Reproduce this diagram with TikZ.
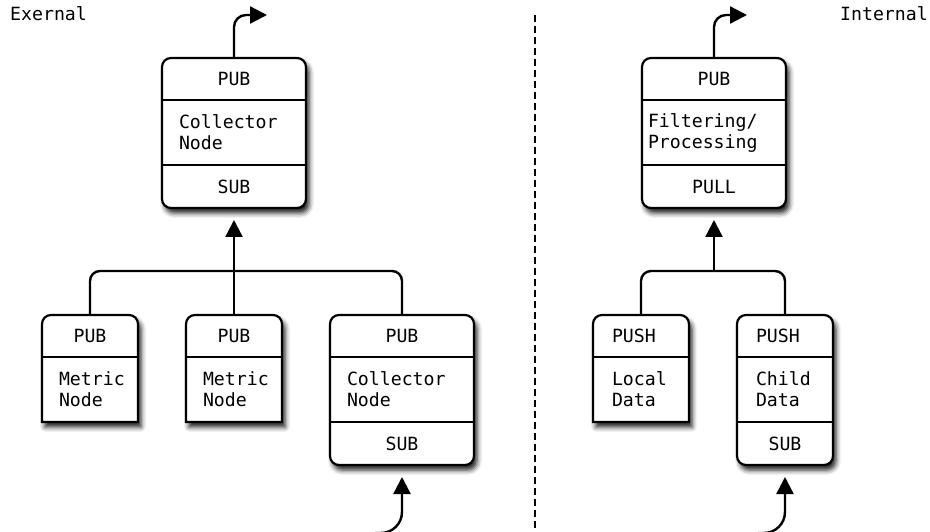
\documentclass[tikz,border=0pt]{standalone}
\usepackage{fontspec}
\setmonofont{DejaVu Sans Mono}
\usetikzlibrary{arrows.meta, positioning, fit, backgrounds, shadows.blur}

% frame with rounded top corners and a square bottom
\newcommand{\openframe}[2]{%
  \draw[frame] (#2.south west) -- ([yshift=-9pt]#1.north west)
    arc[start angle=180, end angle=90, radius=9pt]
    -- ([xshift=-9pt]#1.north east)
    arc[start angle=90, end angle=0, radius=9pt]
    -- (#2.south east) -- cycle;}

\begin{document}
\begin{tikzpicture}[x=1pt, y=1pt,
        % Text and box parts
        txt/.style={font=\ttfamily\fontsize{18.2}{21}\selectfont},
        part/.style={txt, inner ysep=0pt, inner xsep=17pt, outer sep=0pt},
        hdr/.style={part, minimum height=42pt, align=center},
        body/.style={part, minimum height=65pt, align=left},
        ftr/.style={part, minimum height=43pt, align=center},
        wide/.style={text width=110pt},
        narrow/.style={text width=62pt},
        inset/.style={inner xsep=19pt, text width=58pt, align=left},
        % Frames and lines
        frame/.style={draw, fill=white, line width=2.2pt,
            blur shadow={shadow xshift=3pt, shadow yshift=-5pt, shadow blur radius=5pt, shadow opacity=90}},
        box/.style={frame, rounded corners=9pt, inner sep=0pt},
        split/.style={line width=2pt},
        line/.style={line width=2.4pt},
        arrow/.style={line, -{Triangle[length=17pt, width=17pt]}}
    ]
    \useasboundingbox (0,0) rectangle (930,531);

    % External side
    \node[txt, anchor=base west, inner sep=0pt] (ext) at (10,510) {Exernal};

    \node[hdr, wide] (cpub) at (234,452) {PUB};
    \node[body, wide, below=0pt of cpub] (cbody) {Collector\\Node};
    \node[ftr, wide, below=0pt of cbody] (csub) {SUB};

    \node[hdr, narrow] (m1pub) at (90,195) {PUB};
    \node[body, narrow, below=0pt of m1pub] (m1body) {Metric\\Node};
    \node[hdr, narrow] (m2pub) at (234,195) {PUB};
    \node[body, narrow, below=0pt of m2pub] (m2body) {Metric\\Node};

    \node[hdr, wide] (c2pub) at (402,195) {PUB};
    \node[body, wide, below=0pt of c2pub] (c2body) {Collector\\Node};
    \node[ftr, wide, below=0pt of c2body] (c2sub) {SUB};

    % Internal side
    \node[txt, anchor=base east, inner sep=0pt] (int) at (928,510) {Internal};

    \node[hdr, wide] (fpub) at (714,452) {PUB};
    \node[body, wide, inner xsep=6pt, text width=132pt, below=0pt of fpub] (fbody) {Filtering/\\Processing};
    \node[ftr, wide, below=0pt of fbody] (fpull) {PULL};

    \node[hdr, narrow, inset] (lpush) at (641,195) {PUSH};
    \node[body, narrow, inset, below=0pt of lpush] (lbody) {Local\\Data};
    \node[hdr, narrow, inset] (chpush) at (785,195) {PUSH};
    \node[body, narrow, inset, below=0pt of chpush] (chbody) {Child\\Data};
    \node[ftr, narrow, below=0pt of chbody] (chsub) {SUB};

    % Frames behind the parts
    \begin{scope}[on background layer]
        \node[box, fit=(cpub)(csub)] (cframe) {};
        \node[box, fit=(c2pub)(c2sub)] (c2frame) {};
        \node[box, fit=(fpub)(fpull)] (fframe) {};
        \node[box, fit=(chpush)(chsub)] (chframe) {};
        \openframe{m1pub}{m1body}
        \openframe{m2pub}{m2body}
        \openframe{lpush}{lbody}
    \end{scope}

    % Dividers between the parts
    \foreach \p in {cpub, cbody, m1pub, m2pub, c2pub, c2body, fpub, fbody, lpush, chpush, chbody}
        \draw[split] (\p.south west) -- (\p.south east);

    % Separator
    \draw[line width=2pt, dash pattern=on 7pt off 4pt] (535,516) -- (535,0);

    % Connectors, external side
    \coordinate (lbus) at (234,260);
    \coordinate (cout) at (267,516);
    \coordinate (cin) at (375,-2);
    \draw[line, rounded corners=10pt] (m1pub.north) |- (lbus) -| (c2pub.north);
    \draw[arrow, shorten >=12pt] (m2pub.north) -- (csub.south);
    \draw[arrow, rounded corners=12pt] (cpub.north) |- (cout);
    \draw[arrow, rounded corners=21pt, shorten >=12pt] (cin) -| (c2sub.south);

    % Connectors, internal side
    \coordinate (rbus) at (fpull.south |- lbus);
    \coordinate (fout) at (747,516);
    \coordinate (chin) at (758,-2);
    \draw[line, rounded corners=10pt] (lpush.north) |- (rbus) -| (chpush.north);
    \draw[arrow, shorten >=12pt] (rbus) -- (fpull.south);
    \draw[arrow, rounded corners=12pt] (fpub.north) |- (fout);
    \draw[arrow, rounded corners=21pt, shorten >=12pt] (chin) -| (chsub.south);
\end{tikzpicture}
\end{document}
